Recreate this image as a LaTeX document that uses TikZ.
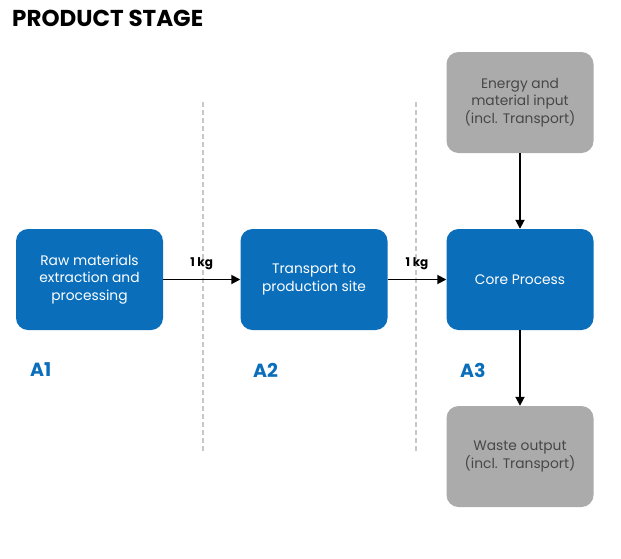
\documentclass[tikz,border=0pt]{standalone}
\usepackage{fontspec}
\setmainfont{Poppins}
\usetikzlibrary{arrows.meta}
\definecolor{stageblue}{HTML}{0A6EBB}
\definecolor{flowgray}{HTML}{ABABAB}
\definecolor{dividergray}{HTML}{C8C8C8}
\tikzset{
  x=1pt, y=-1pt,
  box/.style={rounded corners=12pt, minimum width=147pt, minimum height=101pt,
    align=center, font=\fontsize{13.8}{17.5}\selectfont, inner sep=0pt},
  bluebox/.style={box, fill=stageblue, text=white},
  graybox/.style={box, fill=flowgray, text=black!72},
  flow/.style={draw=black, line width=1.8pt, -{Triangle[length=9pt,width=9pt]}},
  divider/.style={draw=dividergray, line width=1.2pt, dashed, dash pattern=on 5pt off 3pt},
  qty/.style={font=\bfseries\fontsize{12}{14}\selectfont, text=black},
  modlabel/.style={font=\bfseries\fontsize{19}{22}\selectfont, text=stageblue, anchor=west}
}
\begin{document}
\begin{tikzpicture}
\useasboundingbox (0,0) rectangle (621,558);

% stage dividers
\coordinate (d1t) at (203,102); \coordinate (d1b) at (203,452);
\coordinate (d2t) at (416,102); \coordinate (d2b) at (416,452);
\draw[divider] (d1t) -- (d1b);
\draw[divider] (d2t) -- (d2b);

% title
\node[anchor=west, inner sep=0pt, font=\bfseries\fontsize{23}{26}\selectfont] (title) at (12,18) {PRODUCT STAGE};

% process boxes
\node[bluebox] (a1) at (89.5,279.5) {Raw materials\\extraction and\\processing};
\node[bluebox] (a2) at (314,279.5) {Transport to\\production site};
\node[bluebox] (a3) at (520,279.5) {Core Process};
\node[graybox] (in) at (520,102.5) {Energy and\\material input\\(incl. Transport)};
\node[graybox] (out) at (520,456.5) {Waste output\\(incl. Transport)};

% material flows
\draw[flow] (a1) -- node[qty, above=5pt] {1 kg} (a2);
\draw[flow] (a2) -- node[qty, above=5pt] {1 kg} (a3);
\draw[flow] (in) -- (a3);
\draw[flow] (a3) -- (out);

% module labels
\node[modlabel, inner sep=0pt] (m1) at (30,370) {A1};
\node[modlabel, inner sep=0pt] (m2) at (253,370) {A2};
\node[modlabel, inner sep=0pt] (m3) at (460,370) {A3};
\end{tikzpicture}
\end{document}
